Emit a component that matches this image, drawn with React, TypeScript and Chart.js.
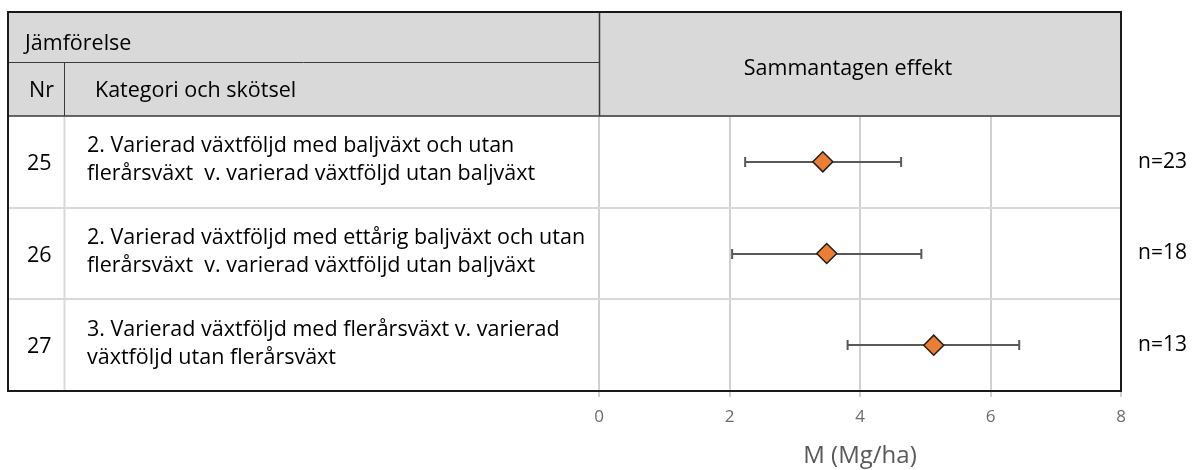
import React, { useEffect, useRef } from 'react';
import { Chart, registerables } from 'chart.js';

Chart.register(...registerables);

// ---- data ----
const comparisonNrs = ['25', '26', '27'];
const categoryLine1 = [
  '2. Varierad växtföljd med baljväxt och utan',
  '2. Varierad växtföljd med ettårig baljväxt och utan',
  '3. Varierad växtföljd med flerårsväxt v. varierad',
];
const categoryLine2 = [
  'flerårsväxt  v. varierad växtföljd utan baljväxt',
  'flerårsväxt  v. varierad växtföljd utan baljväxt',
  'växtföljd utan flerårsväxt',
];
const effectMeans = [3.43, 3.49, 5.13];
const ciLower = [2.24, 2.04, 3.81];
const ciUpper = [4.63, 4.94, 6.44];
const nLabels = ['n=23', 'n=18', 'n=13'];
const xMin = 0;
const xMax = 8;
const xStep = 2;

const headerTitle = 'Jämförelse';
const headerNr = 'Nr';
const headerCategory = 'Kategori och skötsel';
const headerEffect = 'Sammantagen effekt';
const xAxisTitle = 'M (Mg/ha)';

// ---- layout ----
const W = 1192;
const H = 470;
const T_LEFT = 8;
const T_TOP = 12;
const H_MID = 62;
const H_BOTTOM = 116;
const NR_X = 64;
const C_LEFT = 599;
const C_RIGHT = 1121;
const C_BOTTOM = 391;
const FONT = '"Open Sans", sans-serif';
const BODY_SIZE = 21.5;

const tablePlugin = {
  id: 'tablePlugin',
  beforeDraw(chart: any) {
    const ctx = chart.ctx;
    ctx.save();
    ctx.fillStyle = '#d9d9d9';
    ctx.fillRect(T_LEFT, T_TOP, C_RIGHT - T_LEFT, H_BOTTOM - T_TOP);
    ctx.restore();
  },
  afterDraw(chart: any) {
    const ctx = chart.ctx;
    const y = chart.scales.y;
    const n = comparisonNrs.length;
    ctx.save();
    // row dividers in left table part
    ctx.strokeStyle = '#d9d9d9';
    ctx.lineWidth = 2;
    for (let i = 1; i < n; i++) {
      const yy = Math.round((y.getPixelForValue(i - 1) + y.getPixelForValue(i)) / 2);
      ctx.beginPath();
      ctx.moveTo(T_LEFT, yy);
      ctx.lineTo(C_LEFT, yy);
      ctx.stroke();
    }
    // Nr column line in rows
    ctx.beginPath();
    ctx.moveTo(NR_X + 0.5, H_BOTTOM);
    ctx.lineTo(NR_X + 0.5, C_BOTTOM);
    ctx.stroke();

    // header inner lines
    ctx.strokeStyle = '#3a3a3a';
    ctx.lineWidth = 1;
    ctx.beginPath();
    ctx.moveTo(T_LEFT, H_MID + 0.5);
    ctx.lineTo(C_LEFT, H_MID + 0.5);
    ctx.moveTo(NR_X + 0.5, H_MID);
    ctx.lineTo(NR_X + 0.5, H_BOTTOM);
    ctx.stroke();
    ctx.lineWidth = 1.5;
    ctx.beginPath();
    ctx.moveTo(C_LEFT + 0.5, T_TOP);
    ctx.lineTo(C_LEFT + 0.5, H_BOTTOM);
    ctx.moveTo(T_LEFT, H_BOTTOM);
    ctx.lineTo(C_RIGHT, H_BOTTOM);
    ctx.stroke();

    // outer border
    ctx.strokeStyle = '#1a1a1a';
    ctx.lineWidth = 2;
    ctx.beginPath();
    ctx.rect(T_LEFT, T_TOP, C_RIGHT - T_LEFT, C_BOTTOM - T_TOP);
    ctx.stroke();
    ctx.restore();
  },
};

const errorBarPlugin = {
  id: 'errorBars',
  beforeDatasetsDraw(chart: any) {
    const ctx = chart.ctx;
    const x = chart.scales.x;
    const meta = chart.getDatasetMeta(0);
    ctx.save();
    ctx.strokeStyle = '#595959';
    ctx.lineWidth = 2;
    meta.data.forEach((pt: any, i: number) => {
      const yy = Math.round(pt.y);
      const x1 = x.getPixelForValue(ciLower[i]);
      const x2 = x.getPixelForValue(ciUpper[i]);
      ctx.beginPath();
      ctx.moveTo(x1, yy);
      ctx.lineTo(x2, yy);
      ctx.moveTo(x1, yy - 5);
      ctx.lineTo(x1, yy + 5);
      ctx.moveTo(x2, yy - 5);
      ctx.lineTo(x2, yy + 5);
      ctx.stroke();
    });
    ctx.restore();
  },
};

export default function App() {
  const canvasRef = useRef<HTMLCanvasElement | null>(null);

  useEffect(() => {
    if (!canvasRef.current) return;
    Chart.defaults.font.family = FONT;
    const chart = new Chart(canvasRef.current, {
      type: 'line',
      data: {
        labels: comparisonNrs,
        datasets: [
          {
            data: effectMeans,
            showLine: false,
            pointStyle: 'rectRot',
            pointRadius: 10,
            pointHoverRadius: 10,
            pointBackgroundColor: '#ED7D31',
            pointBorderColor: '#1f1f1f',
            pointBorderWidth: 1.5,
          },
        ],
      },
      options: {
        indexAxis: 'y',
        animation: false,
        responsive: false,
        maintainAspectRatio: false,
        events: [],
        layout: { padding: { left: C_LEFT, top: H_BOTTOM, right: 0, bottom: 0 } },
        plugins: { legend: { display: false }, tooltip: { enabled: false } },
        scales: {
          x: {
            type: 'linear',
            position: 'bottom',
            min: xMin,
            max: xMax,
            ticks: { stepSize: xStep, color: '#6b6b6b', font: { size: 17 }, padding: 10 },
            grid: { color: '#d0d0d0', lineWidth: 2, tickLength: 6, drawTicks: true },
            border: { display: false },
            title: {
              display: true,
              text: xAxisTitle,
              color: '#595959',
              font: { size: 24 },
              padding: { top: 0, bottom: -1 },
            },
            afterFit: (s: any) => {
              s.height = H - C_BOTTOM;
            },
          },
          y: {
            type: 'category',
            labels: comparisonNrs,
            offset: true,
            grid: { offset: true, color: '#d9d9d9', lineWidth: 2, drawTicks: false },
            ticks: { display: false },
            border: { display: false },
            afterFit: (s: any) => {
              s.width = 0;
            },
          },
          y2: {
            type: 'category',
            position: 'right',
            labels: nLabels,
            offset: true,
            grid: { display: false, drawTicks: false },
            border: { display: false },
            ticks: { color: '#000', font: { size: 21 }, padding: 17 },
            afterFit: (s: any) => {
              s.width = W - C_RIGHT;
            },
          },
        },
      } as any,
      plugins: [tablePlugin, errorBarPlugin],
    });
    return () => chart.destroy();
  }, []);

  const rowH = (C_BOTTOM - H_BOTTOM) / comparisonNrs.length;
  const txt: React.CSSProperties = {
    position: 'absolute',
    fontFamily: FONT,
    fontSize: BODY_SIZE,
    color: '#000',
    whiteSpace: 'pre',
    margin: 0,
  };

  return (
    <div style={{ position: 'absolute', left: 0, top: 0, width: W, height: H, background: '#fff' }}>
      <canvas ref={canvasRef} width={W} height={H} style={{ position: 'absolute', left: 0, top: 0, width: W, height: H }} />
      <div style={{ ...txt, left: 25, top: 42 - 15, lineHeight: '30px' }}>{headerTitle}</div>
      <div style={{ ...txt, left: 29, top: 89 - 15, lineHeight: '30px' }}>{headerNr}</div>
      <div style={{ ...txt, left: 95, top: 89 - 15, lineHeight: '30px' }}>{headerCategory}</div>
      <div style={{ ...txt, left: 698, width: 300, textAlign: 'center', top: 67 - 15, lineHeight: '30px' }}>{headerEffect}</div>
      {comparisonNrs.map((nr, i) => {
        const cy = H_BOTTOM + rowH * (i + 0.5);
        return (
          <React.Fragment key={nr}>
            <div style={{ ...txt, left: 27, top: cy - 15, lineHeight: '30px' }}>{nr}</div>
            <div style={{ ...txt, left: 87, top: cy - 3.5 - 28, lineHeight: '28px' }}>
              {categoryLine1[i] + '\n' + categoryLine2[i]}
            </div>
          </React.Fragment>
        );
      })}
    </div>
  );
}
